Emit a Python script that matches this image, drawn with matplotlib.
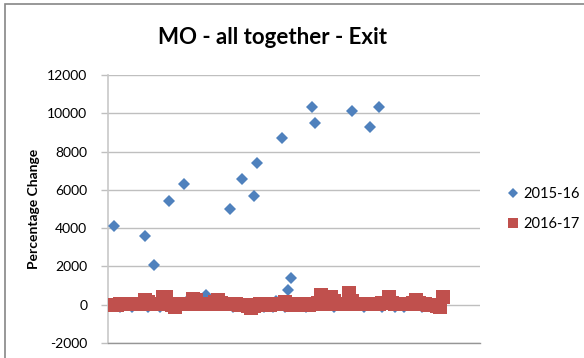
import matplotlib
matplotlib.use("Agg")
import matplotlib.pyplot as plt
from matplotlib.patches import Rectangle

plt.rcParams["font.family"] = ["Lato", "DejaVu Sans"]

TITLE = "MO - all together - Exit"
Y_LABEL = "Percentage Change"
SERIES = ["2015-16", "2016-17"]
Y_TICKS = [-2000, 0, 2000, 4000, 6000, 8000, 10000, 12000]

# percentage change per record, 2015-16
change_1516 = [
    0, 4100, -30, -100, 0, 20, -20, -100, 10, 0,
    30, 3600, -100, 0, 2100, 20, -100, 0, 40, 5400,
    -100, 10, 0, 30, 6300, 200, -20, 0, 50, 20,
    0, 500, 10, -30, 0, 20, 40, 0, -20, 5000,
    -100, 0, 30, 6550, 10, 0, 20, 5700, 7400, -100,
    -100, 0, 20, -100, 200, 0, 8700, -100, 750, 1400,
    0, 20, 10, 10, -100, 0, 10350, 9500, 20, 0,
    -30, 10, 0, -100, 0, 20, 30, 0, 10, 10100,
    0, 20, 10, -100, 0, 9300, 20, 0, 10350, -100,
    0, 30, 10, -100, 0, 20, -100, 0, 10, 30,
    0, 20, -100, 0,
]

# percentage change per record, 2016-17
change_1617 = [
    0, 10, 0, 20, 30, 20, 40, 50, 40, 30,
    50, 260, 120, 50, 30, 40, 60, 420, 380, 40,
    -30, -100, 20, 30, 50, 60, 50, 290, 250, 60,
    30, 40, 30, 60, 120, 260, 100, 50, 30, 30,
    20, 20, 10, 0, -20, -50, -150, -60, 10, 20,
    30, 20, 10, 40, 50, 40, 60, 150, 40, 10,
    0, 20, 20, 30, 10, 0, 20, 30, 80, 520,
    120, 50, 420, 200, 40, 30, 20, 50, 630, 200,
    50, 30, 20, 30, 40, 50, 30, 30, 50, 80,
    100, 420, 100, 40, 30, 20, 20, 30, 60, 100,
    260, 80, 30, 20, 10, 0, -30, -60, -100, 420,
]

x_1516 = list(range(1, len(change_1516) + 1))
x_1617 = list(range(1, len(change_1617) + 1))

fig = plt.figure(figsize=(5.84, 3.58), dpi=100)
ax = fig.add_axes([108 / 584, 1 - 343 / 358, 372 / 584, 268 / 358])

ax.plot(x_1516, change_1516, linestyle="none", marker="D", markersize=6.6,
        color="#4f81bd", markeredgewidth=0, label=SERIES[0], zorder=3)
ax.plot(x_1617, change_1617, linestyle="none", marker="s", markersize=9.4,
        color="#c0504d", markeredgewidth=0, label=SERIES[1], zorder=4)

ax.set_xlim(0, 122)
ax.set_ylim(-2000, 12000)
ax.set_yticks(Y_TICKS)
ax.set_yticklabels([str(t) for t in Y_TICKS], fontsize=10)
ax.set_xticks([])
ax.grid(axis="y", color="#bfbfbf", linewidth=1.0)
ax.set_axisbelow(True)
ax.tick_params(axis="y", length=5, width=1, color="#bfbfbf", pad=10)

for side in ["top", "right"]:
    ax.spines[side].set_visible(False)
ax.spines["left"].set_color("#c8c8c8")
ax.spines["bottom"].set_color("#969696")
ax.spines["left"].set_linewidth(1.2)
ax.spines["bottom"].set_linewidth(1.0)

ax.set_ylabel(Y_LABEL, fontsize=10, fontweight="bold", labelpad=5)
fig.text(272 / 584, 1 - 38 / 358, TITLE, ha="center", va="center",
         fontsize=16, fontweight="bold")

fig.legend(loc="center left", bbox_to_anchor=(494 / 584, 1 - 209 / 358),
           frameon=False, fontsize=10.5, markerscale=0.75, handlelength=0.8,
           handletextpad=0.3, labelspacing=1.1)

# chart frame
fig.patches.append(Rectangle((5 / 584, -0.5), 1.5, 1.5 - 4 / 358,
                             transform=fig.transFigure, fill=False,
                             edgecolor="#868686", linewidth=1.2))

fig.savefig("out.png", dpi=100)
